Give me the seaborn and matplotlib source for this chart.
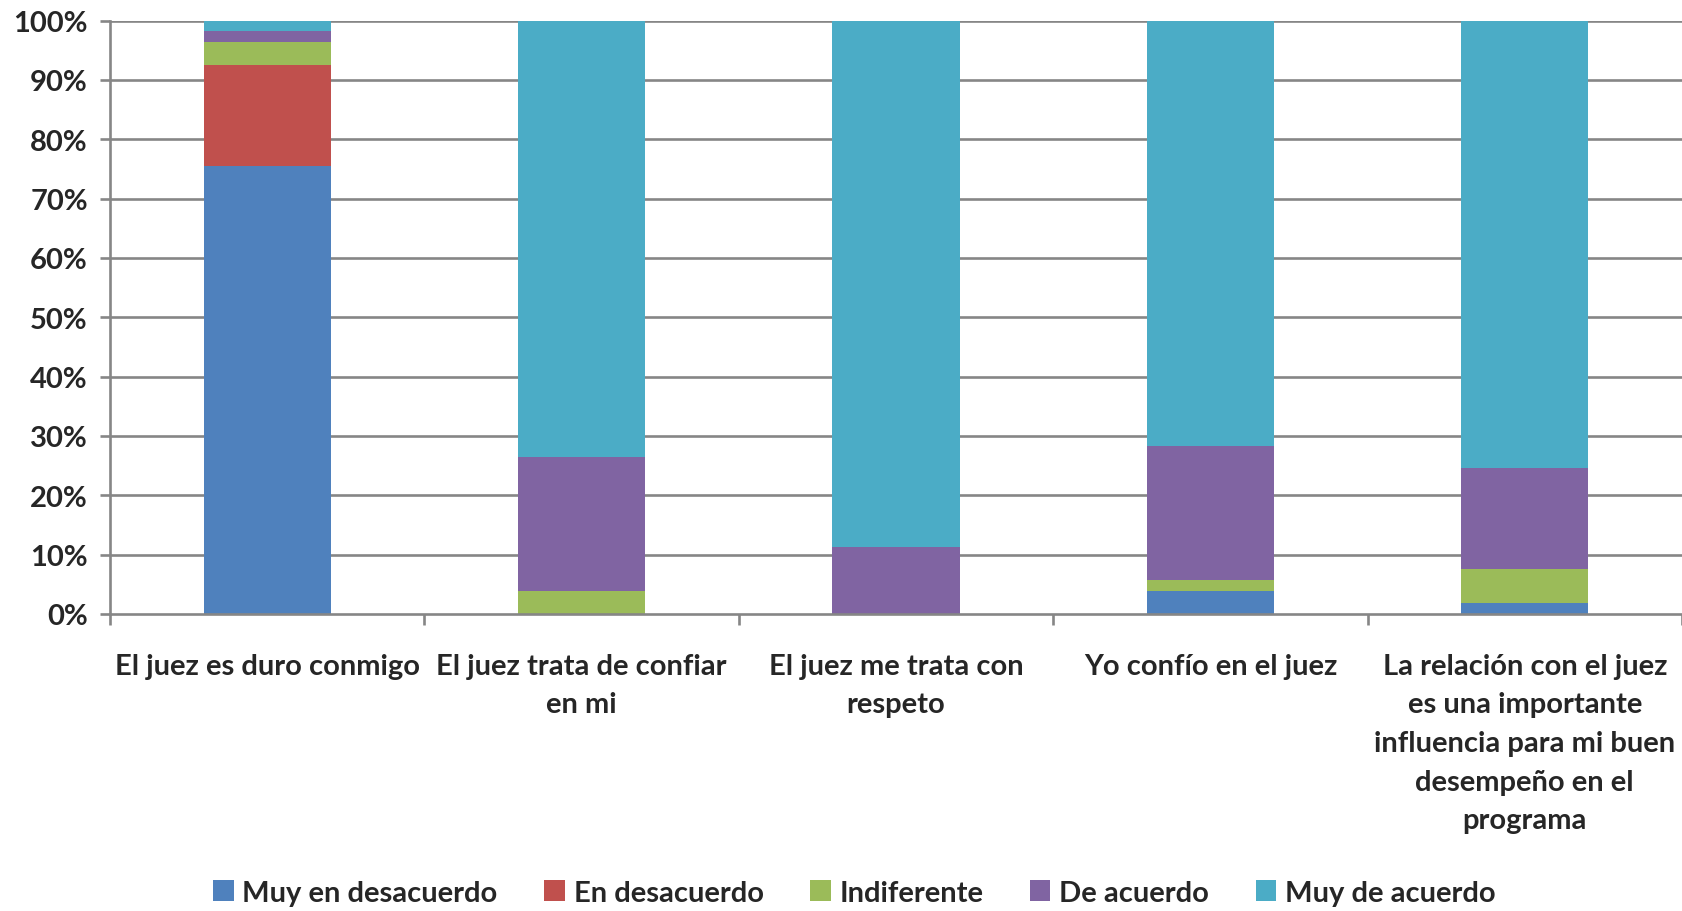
import matplotlib
matplotlib.use("Agg")
import matplotlib.pyplot as plt
from matplotlib.patches import Patch
import numpy as np
import pandas as pd
import seaborn as sns

categories = [
    "El juez es duro conmigo",
    "El juez trata de confiar\nen mi",
    "El juez me trata con\nrespeto",
    "Yo confío en el juez",
    "La relación con el juez\nes una importante\ninfluencia para mi buen\ndesempeño en el\nprograma",
]
series_names = ["Muy en desacuerdo", "En desacuerdo", "Indiferente", "De acuerdo", "Muy de acuerdo"]
colors = ["#4F81BD", "#C0504D", "#9BBB59", "#8064A2", "#4BACC6"]

# shares per answer, one list per series (fractions of 1)
muy_en_desacuerdo = [0.755, 0.0, 0.0, 0.038, 0.019]
en_desacuerdo = [0.170, 0.0, 0.0, 0.0, 0.0]
indiferente = [0.038, 0.038, 0.0, 0.019, 0.057]
de_acuerdo = [0.019, 0.226, 0.113, 0.226, 0.170]
muy_de_acuerdo = [0.018, 0.736, 0.887, 0.717, 0.754]

yticks = [0, 0.1, 0.2, 0.3, 0.4, 0.5, 0.6, 0.7, 0.8, 0.9, 1.0]
ytick_labels = ["0%", "10%", "20%", "30%", "40%", "50%", "60%", "70%", "80%", "90%", "100%"]

sns.set_theme(style="white")
plt.rcParams["font.family"] = ["Lato", "DejaVu Sans"]

df = pd.DataFrame(
    {
        "cat": categories,
        series_names[0]: muy_en_desacuerdo,
        series_names[1]: en_desacuerdo,
        series_names[2]: indiferente,
        series_names[3]: de_acuerdo,
        series_names[4]: muy_de_acuerdo,
    }
)
# cumulative tops so bars can be drawn back to front
cum = df[series_names].cumsum(axis=1)

fig = plt.figure(figsize=(16.82, 9.12), dpi=100)
ax = fig.add_axes([0.0654, 0.3257, 0.9346, 0.6507])

grid_c = "#868686"
for y in yticks[1:]:
    ax.axhline(y, color=grid_c, lw=1.9, zorder=0)

for name, col in reversed(list(zip(series_names, colors))):
    sns.barplot(x=df["cat"], y=cum[name], color=col, width=0.405,
                saturation=1, ax=ax, zorder=2, linewidth=0)

ax.set_xlim(-0.5, 4.5)
ax.set_ylim(0, 1.0)
ax.set_xlabel("")
ax.set_ylabel("")

for s in ["top", "right"]:
    ax.spines[s].set_visible(False)
for s in ["left", "bottom"]:
    ax.spines[s].set_color(grid_c)
    ax.spines[s].set_linewidth(1.9)
    ax.spines[s].set_zorder(3)

ax.set_yticks(yticks)
ax.set_yticklabels(ytick_labels, fontsize=21, fontweight="bold")
ax.tick_params(axis="y", length=7, width=1.9, color=grid_c, pad=9, left=True)

ax.set_xticks(np.arange(-0.5, 5.0, 1.0))
ax.set_xticklabels([])
ax.tick_params(axis="x", which="major", length=8, width=1.9, color=grid_c, bottom=True)
ax.set_xticks(range(len(categories)), minor=True)
ax.set_xticklabels(categories, minor=True, fontsize=21, fontweight="bold",
                   linespacing=1.6, va="top")
ax.tick_params(axis="x", which="minor", length=0, pad=28)

handles = [Patch(facecolor=c, edgecolor="none") for c in colors]
fig.legend(handles, series_names, loc="center", bbox_to_anchor=(0.508, 0.02),
           ncol=5, frameon=False, handlelength=0.7, handleheight=0.7,
           handletextpad=0.3, columnspacing=1.6,
           prop={"weight": "bold", "size": 21})

fig.savefig("out.png", dpi=100)
